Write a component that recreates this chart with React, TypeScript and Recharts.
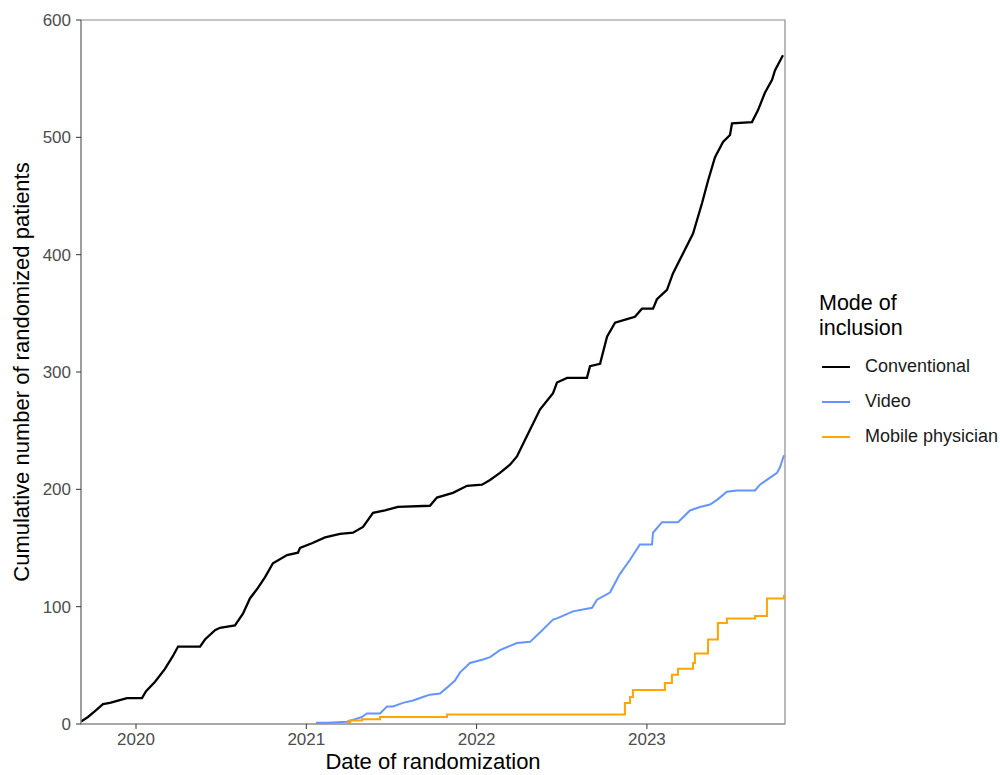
import React from 'react'
import {
  LineChart,
  Line,
  XAxis,
  YAxis,
  ReferenceArea,
} from 'recharts'

// x values are decimal years
const X_MIN = 2019.677
const X_MAX = 2023.811

const yearTicks = [2020, 2021, 2022, 2023]
const countTicks = [0, 100, 200, 300, 400, 500, 600]

// Conventional inclusion
const conventionalDate = [
  2019.677, 2019.718, 2019.759, 2019.806, 2019.847, 2019.894, 2019.947, 2020.035,
  2020.059, 2020.112, 2020.17, 2020.217, 2020.247, 2020.376, 2020.405, 2020.464,
  2020.493, 2020.581, 2020.628, 2020.669, 2020.711, 2020.757, 2020.804, 2020.887,
  2020.951, 2020.963, 2021.033, 2021.11, 2021.198, 2021.274, 2021.333, 2021.392,
  2021.462, 2021.538, 2021.726, 2021.767, 2021.861, 2021.944, 2022.032, 2022.079,
  2022.137, 2022.196, 2022.237, 2022.284, 2022.372, 2022.449, 2022.472, 2022.531,
  2022.648, 2022.666, 2022.725, 2022.766, 2022.813, 2022.883, 2022.93, 2022.971,
  2023.036, 2023.059, 2023.118, 2023.153, 2023.212, 2023.271, 2023.324, 2023.359,
  2023.4, 2023.447, 2023.488, 2023.5, 2023.617, 2023.652, 2023.693, 2023.735,
  2023.752, 2023.799,
]
const conventionalCount = [
  2, 6, 11, 17, 18, 20, 22, 22,
  28, 36, 47, 58, 66, 66, 72, 80,
  82, 84, 94, 107, 115, 125, 137, 144,
  146, 150, 154, 159, 162, 163, 168, 180,
  182, 185, 186, 193, 197, 203, 204, 208,
  214, 221, 228, 242, 268, 282, 291, 295,
  295, 305, 307, 330, 342, 345, 347, 354,
  354, 362, 370, 384, 401, 418, 444, 463,
  483, 496, 502, 512, 513, 523, 538, 549,
  557, 570,
]

// Video inclusion
const videoDate = [
  2021.057, 2021.127, 2021.239, 2021.286, 2021.327, 2021.356, 2021.433, 2021.474,
  2021.509, 2021.568, 2021.627, 2021.685, 2021.726, 2021.785, 2021.826, 2021.873,
  2021.903, 2021.961, 2022.038, 2022.079, 2022.137, 2022.237, 2022.314, 2022.372,
  2022.449, 2022.472, 2022.566, 2022.678, 2022.707, 2022.783, 2022.842, 2022.901,
  2022.959, 2023.03, 2023.036, 2023.089, 2023.183, 2023.253, 2023.312, 2023.371,
  2023.412, 2023.47, 2023.529, 2023.635, 2023.664, 2023.723, 2023.764, 2023.782,
  2023.805,
]
const videoCount = [
  1, 1, 2, 4, 6, 9, 9, 15,
  15, 18, 20, 23, 25, 26, 31, 37,
  44, 52, 55, 57, 63, 69, 70, 78,
  89, 90, 96, 99, 106, 112, 128, 140,
  153, 153, 163, 172, 172, 182, 185, 187,
  191, 198, 199, 199, 204, 210, 214, 219,
  229,
]

// Mobile physician inclusion
const mobileDate = [
  2021.239, 2021.257, 2021.327, 2021.433, 2021.826, 2022.854, 2022.871, 2022.901,
  2022.918, 2023.106, 2023.147, 2023.183, 2023.271, 2023.282, 2023.359, 2023.417,
  2023.47, 2023.635, 2023.705, 2023.805,
]
const mobileCount = [
  1, 3, 4, 6, 8, 8, 18, 23,
  29, 35, 42, 47, 52, 60, 72, 86,
  90, 92, 107, 110,
]

const toPoints = (dates: number[], counts: number[]) =>
  dates.map((t, i) => ({ t, n: counts[i] }))

const series = [
  { name: 'Conventional', color: '#000000', type: 'linear', data: toPoints(conventionalDate, conventionalCount) },
  { name: 'Video', color: '#6495FF', type: 'linear', data: toPoints(videoDate, videoCount) },
  { name: 'Mobile physician', color: '#FFA500', type: 'stepAfter', data: toPoints(mobileDate, mobileCount) },
]

const font = '"Liberation Sans", Arial, Helvetica, sans-serif'

function XTitle(props: any) {
  const { viewBox } = props
  return (
    <text
      x={viewBox.x + viewBox.width / 2}
      y={viewBox.y + 45}
      textAnchor="middle"
      fontSize={22}
      fill="#000"
      fontFamily={font}
    >
      Date of randomization
    </text>
  )
}

function YTitle(props: any) {
  const { viewBox } = props
  const cy = viewBox.y + viewBox.height / 2
  return (
    <text
      transform={`translate(29, ${cy}) rotate(-90)`}
      textAnchor="middle"
      fontSize={22}
      fill="#000"
      fontFamily={font}
    >
      Cumulative number of randomized patients
    </text>
  )
}

export default function App() {
  return (
    <div style={{ position: 'absolute', left: 0, top: 0, width: 1000, height: 775, fontFamily: font }}>
      <LineChart
        width={1000}
        height={775}
        margin={{ top: 20, right: 215, bottom: 0, left: 0 }}
      >
        <XAxis
          type="number"
          dataKey="t"
          domain={[X_MIN, X_MAX]}
          allowDataOverflow
          ticks={yearTicks}
          tickFormatter={(v) => String(v)}
          height={51}
          tickSize={5}
          tickMargin={4}
          axisLine={{ stroke: '#8c8c8c', strokeWidth: 1.2 }}
          tickLine={{ stroke: '#333' }}
          tick={{ fill: '#4d4d4d', fontSize: 17, fontFamily: font }}
          label={<XTitle />}
        />
        <YAxis
          type="number"
          domain={[0, 600]}
          ticks={countTicks}
          width={81}
          tickSize={5}
          tickMargin={5}
          axisLine={{ stroke: '#8c8c8c', strokeWidth: 1.2 }}
          tickLine={{ stroke: '#333' }}
          tick={{ fill: '#4d4d4d', fontSize: 17, fontFamily: font }}
          label={<YTitle />}
        />
        <ReferenceArea
          x1={X_MIN}
          x2={X_MAX}
          y1={0}
          y2={600}
          fill="none"
          stroke="#8c8c8c"
          strokeWidth={1.2}
        />
        {series.map((s) => (
          <Line
            key={s.name}
            data={s.data}
            dataKey="n"
            name={s.name}
            type={s.type as any}
            stroke={s.color}
            strokeWidth={s.name === 'Conventional' ? 2.3 : 2}
            dot={false}
            isAnimationActive={false}
          />
        ))}
      </LineChart>

      {/* legend, drawn next to the panel like ggplot does */}
      <div style={{ position: 'absolute', left: 819, top: 291, color: '#000' }}>
        <div style={{ fontSize: 21.5, lineHeight: '25px', marginBottom: 8 }}>
          Mode of
          <br />
          inclusion
        </div>
        {series.map((s) => (
          <div
            key={s.name}
            style={{ display: 'flex', alignItems: 'center', height: 35, fontSize: 18 }}
          >
            <span
              style={{
                display: 'inline-block',
                width: 28,
                height: 2,
                background: s.color,
                marginLeft: 3,
                marginRight: 15,
              }}
            />
            <span style={{ color: '#1a1a1a' }}>{s.name}</span>
          </div>
        ))}
      </div>
    </div>
  )
}
